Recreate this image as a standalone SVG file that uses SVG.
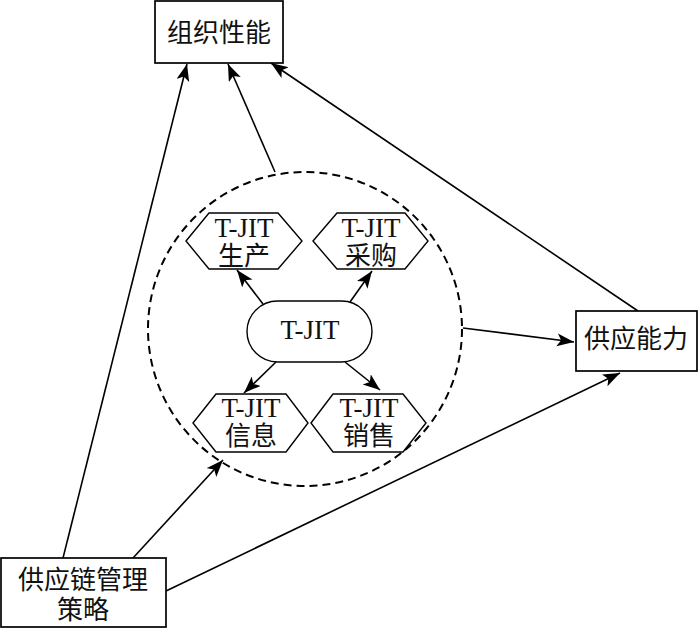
<svg xmlns="http://www.w3.org/2000/svg" width="700" height="629" viewBox="0 0 700 629">
<defs>
<marker id="arr" markerUnits="userSpaceOnUse" markerWidth="20" markerHeight="14" refX="17" refY="6.5" orient="auto">
<path d="M0,0 L17,6.5 L0,13 L4,6.5 z" fill="#000"/>
</marker>
<style>
.box{fill:#fff;stroke:#000;stroke-width:1.7}
.hex{fill:#fff;stroke:#000;stroke-width:1.4}
.cn{font-family:"Noto Sans CJK SC","Liberation Sans",sans-serif;font-size:26px;text-anchor:middle;fill:#111}
.en{font-family:"Liberation Serif",serif;font-size:27px;text-anchor:middle;fill:#111}
.ln{stroke:#000;stroke-width:1.6;fill:none;marker-end:url(#arr)}
</style>
</defs>
<rect width="700" height="629" fill="#fff"/>
<g id="connectors">
<circle cx="305" cy="329" r="157" fill="none" stroke="#000" stroke-width="2" stroke-dasharray="8,5"/>
<line class="ln" x1="63" y1="558" x2="187" y2="64"/>
<line class="ln" x1="275" y1="172" x2="228" y2="64"/>
<line class="ln" x1="638" y1="311" x2="271" y2="63"/>
<line class="ln" x1="463" y1="328" x2="574" y2="342"/>
<line class="ln" x1="133" y1="558" x2="223" y2="460"/>
<line class="ln" x1="166" y1="591" x2="620" y2="373"/>
<line class="ln" x1="263" y1="304" x2="237" y2="270"/>
<line class="ln" x1="350" y1="302" x2="372" y2="271"/>
<line class="ln" x1="276" y1="362" x2="244" y2="393"/>
<line class="ln" x1="345" y1="362" x2="380" y2="390"/>
</g>
<g id="n-org">
<rect class="box" x="155" y="1" width="128" height="62"/>
<text class="cn" x="219" y="42">组织性能</text>
</g>
<g id="n-cap">
<rect class="box" x="576" y="311" width="121" height="60"/>
<text class="cn" x="636" y="348">供应能力</text>
</g>
<g id="n-scm">
<rect class="box" x="1" y="558" width="165" height="69"/>
<text class="cn" x="83" y="589">供应链管理</text>
<text class="cn" x="83" y="619">策略</text>
</g>
<g id="n-tjit">
<rect class="hex" x="247" y="301" width="125" height="61" rx="30.5" ry="30.5"/>
<text class="en" x="310" y="339">T-JIT</text>
</g>
<g id="n-prod">
<polygon class="hex" points="186,241 209,213 278,213 302,241 278,269 209,269"/>
<text class="en" x="244" y="237">T-JIT</text>
<text class="cn" x="244" y="265">生产</text>
</g>
<g id="n-purch">
<polygon class="hex" points="313,241 337,213 405,213 428,241 405,269 337,269"/>
<text class="en" x="371" y="237">T-JIT</text>
<text class="cn" x="371" y="265">采购</text>
</g>
<g id="n-info">
<polygon class="hex" points="193,423 216,394 286,394 308,423 286,452 216,452"/>
<text class="en" x="251" y="417">T-JIT</text>
<text class="cn" x="251" y="445">信息</text>
</g>
<g id="n-sales">
<polygon class="hex" points="311,423 333,394 403,394 426,423 403,452 333,452"/>
<text class="en" x="369" y="417">T-JIT</text>
<text class="cn" x="369" y="445">销售</text>
</g>
</svg>
